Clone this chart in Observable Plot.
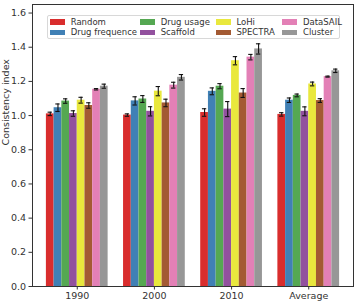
<!DOCTYPE html>
<html>
<head>
<meta charset="utf-8">
<script src="https://cdn.jsdelivr.net/npm/d3@7"></script>
<script src="https://cdn.jsdelivr.net/npm/@observablehq/plot@0.6"></script>
<style>
  html, body { margin: 0; padding: 0; background: #fff; }
  #wrap { position: relative; width: 357px; height: 302px; font-family: "DejaVu Sans", sans-serif; }
  #legend {
    position: absolute; left: 47px; top: 15px; width: 289px; height: 21px;
    border: 1px solid #d8d8d8; border-radius: 2px; background: rgba(255,255,255,0.85);
    display: grid; grid-auto-flow: column; grid-template-rows: 10.6px 10.6px;
    grid-template-columns: 90px 75.7px 66.6px auto; padding: 0.5px 0 0 2px; box-sizing: content-box;
    font-size: 8.5px; color: #333;
  }
  .item { display: flex; align-items: center; white-space: nowrap; }
  .sw { width: 15px; height: 5.5px; margin-right: 5.7px; flex: none; }
</style>
</head>
<body>
<div id="wrap"><div id="legend"></div></div>
<script>
const groups = ["1990", "2000", "2010", "Average"];
const methods = ["Random", "Drug frequence", "Drug usage", "Scaffold", "LoHi", "SPECTRA", "DataSAIL", "Cluster"];
const colors = ["#d92d2d", "#4080b5", "#55a852", "#92519e", "#e9e83d", "#a35a33", "#e380b6", "#979797"];

// values per method, in order of groups
const random        = [1.010, 1.003, 1.018, 1.007];
const drugFrequence = [1.046, 1.086, 1.142, 1.090];
const drugUsage     = [1.085, 1.097, 1.172, 1.118];
const scaffold      = [1.012, 1.025, 1.038, 1.025];
const lohi          = [1.090, 1.143, 1.321, 1.185];
const spectra       = [1.059, 1.074, 1.132, 1.088];
const datasail      = [1.154, 1.178, 1.342, 1.228];
const cluster       = [1.172, 1.224, 1.390, 1.262];

// error half-widths per method
const errRandom        = [0.010, 0.007, 0.022, 0.010];
const errDrugFrequence = [0.022, 0.024, 0.020, 0.013];
const errDrugUsage     = [0.013, 0.020, 0.015, 0.008];
const errScaffold      = [0.016, 0.027, 0.044, 0.026];
const errLohi          = [0.017, 0.027, 0.024, 0.011];
const errSpectra       = [0.016, 0.022, 0.026, 0.011];
const errDatasail      = [0.004, 0.017, 0.016, 0.003];
const errCluster       = [0.012, 0.016, 0.030, 0.010];

const yTicks = [0, 0.2, 0.4, 0.6, 0.8, 1.0, 1.2, 1.4, 1.6];
const yLabel = "Consistency index";

const series = [random, drugFrequence, drugUsage, scaffold, lohi, spectra, datasail, cluster];
const errs = [errRandom, errDrugFrequence, errDrugUsage, errScaffold, errLohi, errSpectra, errDatasail, errCluster];

const barW = 0.1;
const n = methods.length;
const data = [];
groups.forEach((g, gi) => {
  methods.forEach((m, mi) => {
    const x1 = gi + (mi - n / 2) * barW;
    data.push({group: g, method: m, x1, x2: x1 + barW, xc: x1 + barW / 2,
      value: series[mi][gi], err: errs[mi][gi]});
  });
});

const chart = Plot.plot({
  width: 357, height: 302,
  marginLeft: 32, marginRight: 4, marginTop: 4, marginBottom: 16,
  style: {fontFamily: "DejaVu Sans, sans-serif", fontSize: "9.5px", color: "#333", background: "#fff"},
  x: {type: "linear", domain: [-0.58, 3.58], axis: null},
  y: {domain: [0, 1.65], axis: null},
  color: {domain: methods, range: colors},
  marks: [
    Plot.rectY(data, {x1: "x1", x2: "x2", y1: 0, y2: "value", fill: "method"}),
    Plot.ruleX(data, {x: "xc", y1: d => d.value - d.err, y2: d => d.value + d.err, stroke: "#111", strokeWidth: 1.1}),
    Plot.ruleY(data, {y: d => d.value - d.err, x1: d => d.xc - 0.028, x2: d => d.xc + 0.028, stroke: "#111", strokeWidth: 1.1}),
    Plot.ruleY(data, {y: d => d.value + d.err, x1: d => d.xc - 0.028, x2: d => d.xc + 0.028, stroke: "#111", strokeWidth: 1.1}),
    Plot.axisY({ticks: yTicks, tickFormat: d => d.toFixed(1), tickSize: 3.5, tickPadding: 3, label: null, stroke: "#333", fill: "#333"}),
    Plot.axisX({ticks: [0, 1, 2, 3], tickFormat: i => groups[i], tickSize: 3.5, tickPadding: 2, label: null, stroke: "#333", fill: "#333"}),
    Plot.text([yLabel], {frameAnchor: "left", rotate: -90, dx: -26.5, fill: "#333", fontSize: 9.5}),
    Plot.frame({stroke: "#333", strokeWidth: 1})
  ]
});
document.getElementById("wrap").prepend(chart);

const legend = document.getElementById("legend");
methods.forEach((m, i) => {
  const it = document.createElement("div");
  it.className = "item";
  const sw = document.createElement("span");
  sw.className = "sw";
  sw.style.background = colors[i];
  const t = document.createElement("span");
  t.textContent = m;
  it.append(sw, t);
  legend.append(it);
});
</script>
</body>
</html>
